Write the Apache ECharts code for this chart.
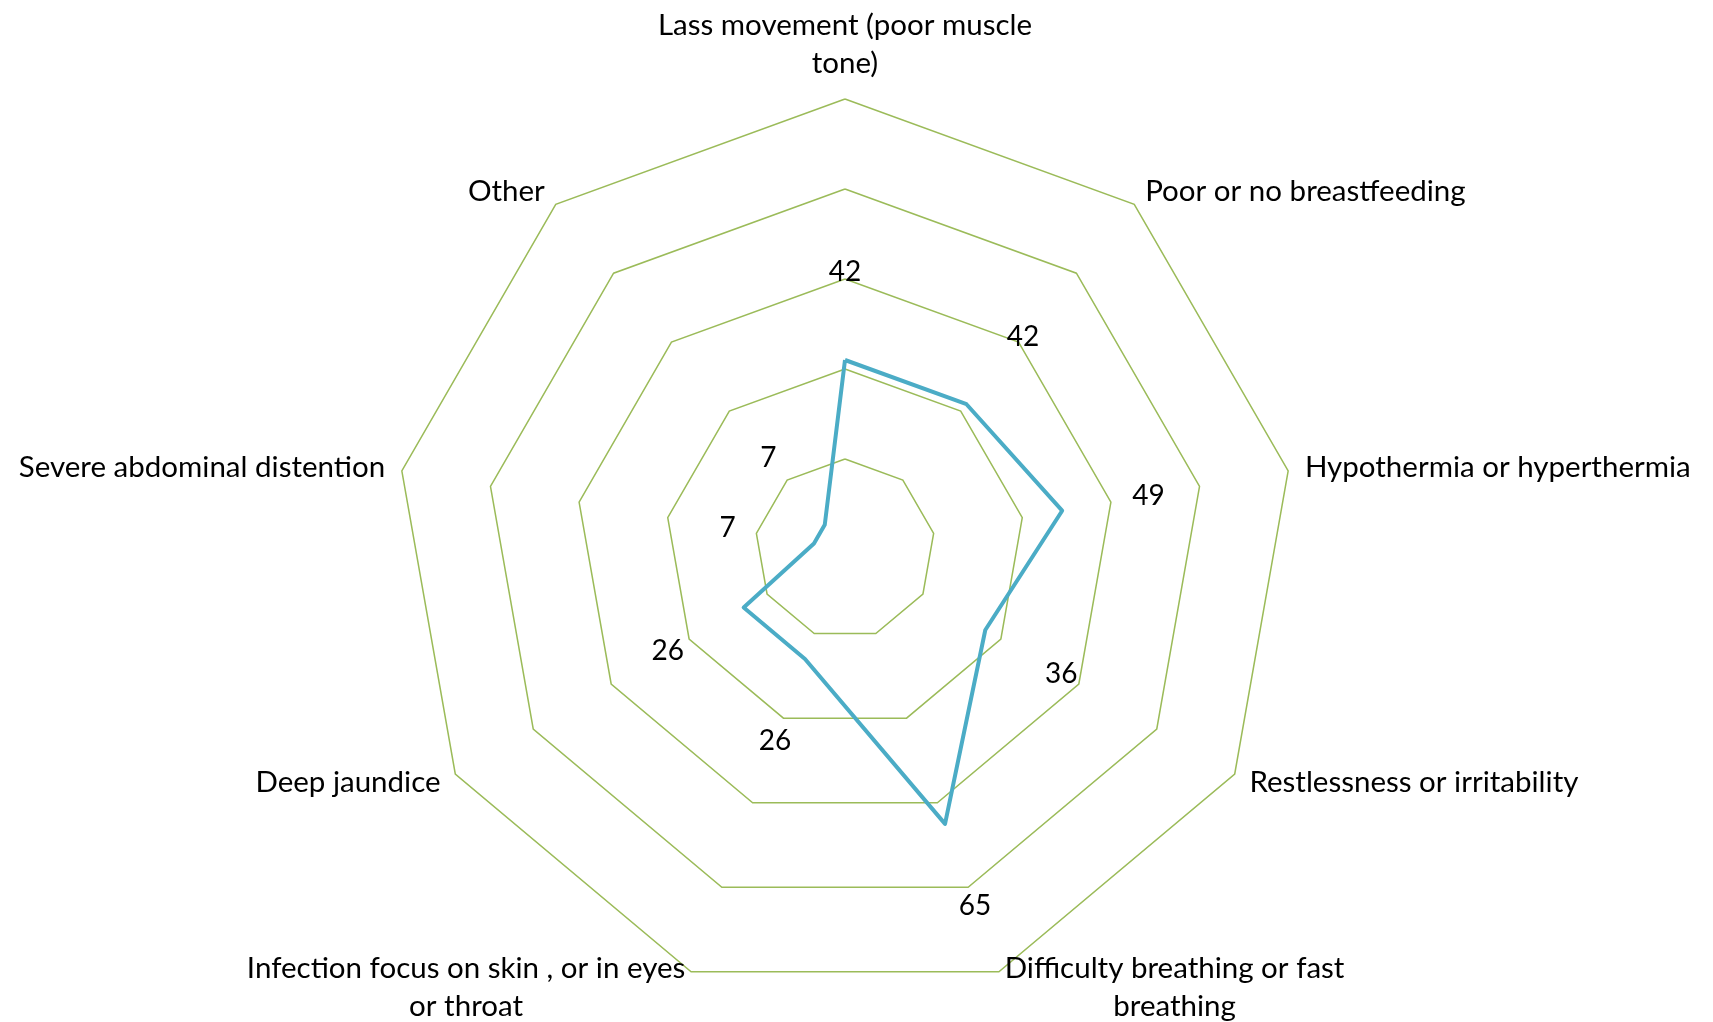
<!DOCTYPE html>
<html>
<head>
<meta charset="utf-8">
<title>Danger signs radar</title>
<script src="https://cdn.jsdelivr.net/npm/echarts@6/dist/echarts.min.js"></script>
<style>
  html, body { margin: 0; padding: 0; background: #fff; }
  #chart { width: 1713px; height: 1022px; }
</style>
</head>
<body>
<div id="chart"></div>
<script>
// categories clockwise from the top, as in the reference
const categories = [
  'Lass movement (poor muscle\ntone)',
  'Poor or no breastfeeding',
  'Hypothermia or hyperthermia',
  'Restlessness or irritability',
  'Difficulty breathing or fast\nbreathing',
  'Infection focus on skin , or in eyes\nor throat',
  'Deep jaundice',
  'Severe abdominal distention',
  'Other'
]
const values = [42, 42, 49, 36, 65, 26, 26, 7, 7]
const axisMax = 100

// labels sit a bit outside the line, like the excel data labels
const LABEL_PAD = 19.5

const FONT = 'Lato'
const lineColor = '#4BACC6'
const gridColor = '#9BBB59'

// echarts lays radar indicators counter-clockwise, so flip the order after the first one
const order = [0, ...categories.map((_, i) => i).slice(1).reverse()]
const indicators = order.map(i => ({ name: categories[i], max: axisMax }))
const seriesValues = order.map(i => values[i])
const labelValues = order.map(i => values[i] + LABEL_PAD)

const chart = echarts.init(document.getElementById('chart'))

const nameStyle = { fontFamily: FONT, fontSize: 29.5, color: '#000', lineHeight: 38, align: 'center' }

chart.setOption({
  animation: false,
  radar: {
    center: [845, 549],
    radius: 450,
    startAngle: 90,
    shape: 'polygon',
    splitNumber: 5,
    indicator: indicators,
    nameGap: 17,
    axisName: {
      color: '#000',
      fontFamily: FONT,
      fontSize: 29.5,
      lineHeight: 38,
      // wrap each line so multi-line names stay centred on each other
      formatter: name => name.split('\n').map(l => '{c|' + l + '}').join('\n'),
      rich: { c: nameStyle }
    },
    axisLine: { show: false },
    axisTick: { show: false },
    axisLabel: { show: false },
    splitArea: { show: false },
    splitLine: { lineStyle: { color: gridColor, width: 1.5 } }
  },
  series: [
    {
      type: 'radar',
      symbol: 'none',
      lineStyle: { color: lineColor, width: 4 },
      data: [{ value: seriesValues, name: 'Danger signs' }],
      z: 3
    },
    {
      // invisible helper series that only carries the value labels
      type: 'radar',
      symbol: 'circle',
      symbolSize: 1,
      itemStyle: { color: 'rgba(0,0,0,0)' },
      lineStyle: { width: 0, opacity: 0 },
      label: {
        show: true,
        position: 'inside',
        fontFamily: FONT,
        fontSize: 28,
        color: '#000',
        formatter: p => {
          const v = Array.isArray(p.value) ? p.value[p.dimensionIndex] : p.value
          return String(Math.round(v - LABEL_PAD))
        }
      },
      data: [{ value: labelValues, name: 'labels' }],
      z: 4
    }
  ]
})
</script>
</body>
</html>
